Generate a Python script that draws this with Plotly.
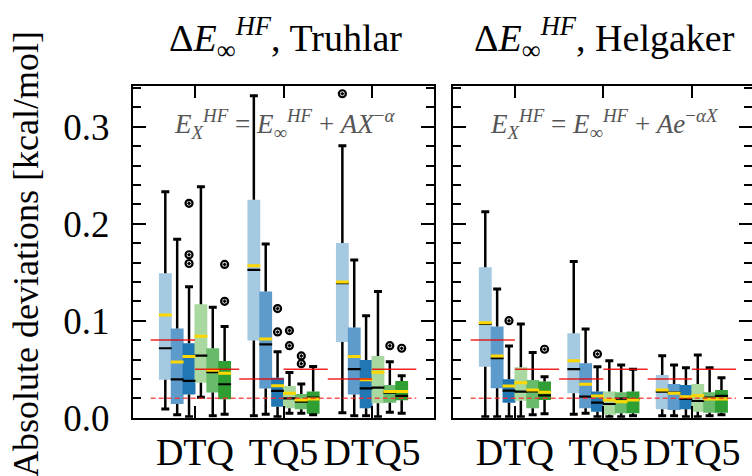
import plotly.graph_objects as go

# ---------------- data ----------------
groups = [1, 2, 3]
group_labels = ["DTQ", "TQ5", "DTQ5"]
box_colors = ["#a6c9e2", "#5d9bcc", "#2077b4", "#a9d9a0", "#67bb6a", "#2f9e33"]

# Truhlar panel: 3 groups x 6 boxes
tru_lo = [0.009, 0.003, 0.001, 0.021, 0.002, 0.0035,
          0.002, 0.0035, 0.001, 0.0045, 0.0045, 0.003,
          0.005, 0.002, 0.002, 0.001, 0.0056, 0.0045]
tru_q1 = [0.039, 0.014, 0.024, 0.036, 0.026, 0.019,
          0.0795, 0.030, 0.0114, 0.0097, 0.0087, 0.004,
          0.078, 0.024, 0.0097, 0.015, 0.0155, 0.018]
tru_med = [0.0716, 0.0396, 0.038, 0.064, 0.047, 0.0345,
           0.1524, 0.0757, 0.0276, 0.020, 0.0165, 0.0206,
           0.1387, 0.050, 0.0303, 0.031, 0.0258, 0.0224]
tru_mean = [0.106, 0.0575, 0.063, 0.084, 0.049, 0.0458,
            0.1566, 0.0812, 0.033, 0.0252, 0.0183, 0.0193,
            0.140, 0.063, 0.039, 0.0468, 0.0269, 0.0269]
tru_q3 = [0.149, 0.092, 0.0768, 0.117, 0.0716, 0.0585,
          0.2247, 0.130, 0.0413, 0.0327, 0.0245, 0.0269,
          0.180, 0.093, 0.0595, 0.0637, 0.0337, 0.0379]
tru_hi = [0.233, 0.184, 0.135, 0.238, 0.114, 0.094,
          0.332, 0.179, 0.068, 0.0465, 0.0348, 0.0527,
          0.2804, 0.1627, 0.105, 0.130, 0.0578, 0.0433]
tru_out_box = [2, 2, 2, 5, 5, 8, 8, 9, 9, 10, 10, 12, 16, 17]
tru_out_val = [0.221, 0.168, 0.159, 0.158, 0.12, 0.1125, 0.0884, 0.0898, 0.0743,
               0.0637, 0.0557, 0.334, 0.0743, 0.0716]

# Helgaker panel
hel_lo = [0.001, 0.001, 0.001, 0.001, 0.003, 0.004,
          0.0035, 0.0045, 0.001, 0.001, 0.001, 0.002,
          0.002, 0.002, 0.001, 0.001, 0.002, 0.003]
hel_q1 = [0.0526, 0.0303, 0.0155, 0.0175, 0.0097, 0.0183,
          0.0252, 0.0097, 0.0062, 0.003, 0.0045, 0.0045,
          0.0087, 0.008, 0.0087, 0.0062, 0.005, 0.005]
hel_med = [0.0967, 0.0613, 0.0279, 0.0269, 0.0272, 0.0231,
           0.050, 0.0217, 0.0155, 0.0141, 0.0196, 0.019,
           0.0269, 0.0258, 0.0193, 0.0172, 0.0206, 0.0224]
hel_mean = [0.098, 0.0637, 0.0327, 0.0361, 0.0286, 0.0262,
            0.0588, 0.0345, 0.0224, 0.0183, 0.0165, 0.0183,
            0.0286, 0.0252, 0.0217, 0.0227, 0.0193, 0.0193]
hel_q3 = [0.155, 0.094, 0.0396, 0.052, 0.0389, 0.0372,
          0.087, 0.0561, 0.0269, 0.0269, 0.0262, 0.0269,
          0.044, 0.0348, 0.0337, 0.0348, 0.0262, 0.0286]
hel_hi = [0.2123, 0.1328, 0.074, 0.0967, 0.0671, 0.0423,
          0.161, 0.0915, 0.0526, 0.0587, 0.0544, 0.050,
          0.064, 0.0544, 0.0516, 0.0647, 0.0516, 0.0413]
hel_out_box = [2, 5, 8]
hel_out_val = [0.100, 0.0706, 0.0657]

# reference lines (same for both panels)
ref_x0 = [0.5, 1.0, 1.5, 2.0, 2.5, 3.0]
ref_x1 = [1.0, 1.5, 2.0, 2.5, 3.0, 3.5]
ref_y = [0.08, 0.05, 0.04, 0.05, 0.04, 0.05]
dash_y = 0.02
dash_x = [0.5, 3.5]

titles = ["Δ<i>E</i><sub>∞</sub><sup><i>HF</i></sup>, Truhlar",
          "Δ<i>E</i><sub>∞</sub><sup><i>HF</i></sup>, Helgaker"]
formulas = ["<i>E</i><sub><i>X</i></sub><sup><i>HF</i></sup> = <i>E</i><sub>∞</sub><sup><i>HF</i></sup> + <i>AX</i><sup>−<i>α</i></sup>",
            "<i>E</i><sub><i>X</i></sub><sup><i>HF</i></sup> = <i>E</i><sub>∞</sub><sup><i>HF</i></sup> + <i>Ae</i><sup>−<i>αX</i></sup>"]
ytitle = "Absolute deviations [kcal/mol]"

# ---------------- figure ----------------
FONT = "Liberation Serif"
SPACING = 0.134
BOXW = 0.145
CAPW = 0.045

fig = go.Figure()


def add_panel(xa, ya, lo, q1, med, mean, q3, hi, ob, ov):
    n = len(q1)
    pos = [groups[i // 6] + ((i % 6) - 2.5) * SPACING for i in range(n)]
    cols = [box_colors[i % 6] for i in range(n)]
    fig.add_trace(go.Bar(x=pos, y=[q3[i] - q1[i] for i in range(n)], base=q1, width=BOXW,
                         marker=dict(color=cols, line=dict(width=0)),
                         xaxis=xa, yaxis=ya, showlegend=False))
    wx, wy, cx, cy, mx, my, ax, ay = [], [], [], [], [], [], [], []
    for i in range(n):
        p = pos[i]
        wx += [p, p, None, p, p, None]
        wy += [q3[i], hi[i], None, lo[i], q1[i], None]
        cx += [p - CAPW, p + CAPW, None, p - CAPW, p + CAPW, None]
        cy += [hi[i], hi[i], None, lo[i], lo[i], None]
        mx += [p - BOXW / 2, p + BOXW / 2, None]
        my += [med[i], med[i], None]
        ax += [p - BOXW / 2, p + BOXW / 2, None]
        ay += [mean[i], mean[i], None]
    fig.add_trace(go.Scatter(x=wx, y=wy, mode="lines", line=dict(color="black", width=2.5),
                             xaxis=xa, yaxis=ya, showlegend=False))
    fig.add_trace(go.Scatter(x=cx, y=cy, mode="lines", line=dict(color="black", width=3),
                             xaxis=xa, yaxis=ya, showlegend=False))
    fig.add_trace(go.Scatter(x=mx, y=my, mode="lines", line=dict(color="black", width=2.2),
                             xaxis=xa, yaxis=ya, showlegend=False))
    fig.add_trace(go.Scatter(x=ax, y=ay, mode="lines", line=dict(color="#ffd700", width=3),
                             xaxis=xa, yaxis=ya, showlegend=False))
    fig.add_trace(go.Scatter(x=[pos[b] for b in ob], y=ov, mode="markers",
                             marker=dict(symbol="circle-open-dot", size=7, color="black",
                                         line=dict(color="black", width=2.2)),
                             xaxis=xa, yaxis=ya, showlegend=False))
    rx, ry = [], []
    for a, b, v in zip(ref_x0, ref_x1, ref_y):
        rx += [a, b, None]
        ry += [v, v, None]
    fig.add_trace(go.Scatter(x=rx, y=ry, mode="lines", line=dict(color="rgba(235,0,0,0.85)", width=1.5),
                             xaxis=xa, yaxis=ya, showlegend=False))
    fig.add_trace(go.Scatter(x=dash_x, y=[dash_y, dash_y], mode="lines",
                             line=dict(color="rgba(255,40,40,0.8)", width=1.5, dash="5px,3px"),
                             xaxis=xa, yaxis=ya, showlegend=False))


add_panel("x", "y", tru_lo, tru_q1, tru_med, tru_mean, tru_q3, tru_hi, tru_out_box, tru_out_val)
add_panel("x2", "y2", hel_lo, hel_q1, hel_med, hel_mean, hel_q3, hel_hi, hel_out_box, hel_out_val)
fig.add_trace(go.Scatter(x=[None], y=[None], xaxis="x2", yaxis="y3", showlegend=False))

W, H = 752, 476
yb, yt = 1 - 417.7 / H, 1 - 86 / H
YR = [0, 0.342]

xcommon = dict(tickvals=groups, ticktext=group_labels, ticks="inside", ticklen=12, tickwidth=2,
               tickcolor="black", showline=True, linecolor="black", linewidth=2, mirror="ticks",
               showgrid=False, zeroline=False, tickfont=dict(family=FONT, size=38, color="black"),
               ticklabelstandoff=0, automargin=False)
ycommon = dict(range=YR, tickvals=[0, 0.1, 0.2, 0.3], ticks="inside", ticklen=13, tickwidth=2,
               tickcolor="black", showline=True, linecolor="black", linewidth=2,
               showgrid=False, zeroline=False, tickfont=dict(family=FONT, size=37, color="black"),
               automargin=False,
               minor=dict(ticks="inside", ticklen=8, tickwidth=1.5, tickcolor="black", dtick=0.02,
                          showgrid=False))

fig.update_layout(
    width=W, height=H, margin=dict(l=0, r=0, t=0, b=0),
    paper_bgcolor="white", plot_bgcolor="white", barmode="overlay",
    xaxis=dict(domain=[133 / W, 434 / W], range=[0.3, 3.7], anchor="y", **xcommon),
    xaxis2=dict(domain=[453 / W, 1.0], range=[0.3, 3.68], anchor="y2", **xcommon),
    yaxis=dict(domain=[yb, yt], anchor="x", mirror="ticks", tickformat=".1f",
               ticklabelstandoff=14, **ycommon),
    yaxis2=dict(domain=[yb, yt], anchor="x2", mirror=False, showticklabels=False, **ycommon),
    yaxis3=dict(overlaying="y2", side="right", anchor="x2", range=YR, tickvals=[0, 0.1, 0.2, 0.3],
                ticks="inside", ticklen=13, tickwidth=2, tickcolor="black", showline=False,
                showgrid=False, zeroline=False, showticklabels=False, automargin=False,
                minor=dict(ticks="inside", ticklen=8, tickwidth=1.5, tickcolor="black", dtick=0.02)),
    font=dict(family=FONT, color="black"),
)

annos = []
for i, (t, f) in enumerate(zip(titles, formulas)):
    cx = (285 if i == 0 else 604) / W
    annos.append(dict(text=t, x=cx, y=1 - 38 / H, xref="paper", yref="paper", showarrow=False,
                      xanchor="center", yanchor="middle", font=dict(family=FONT, size=38, color="black")))
    annos.append(dict(text=f, x=cx, y=1 - 124 / H, xref="paper", yref="paper", showarrow=False,
                      xanchor="center", yanchor="middle", font=dict(family=FONT, size=27, color="#555555")))
annos.append(dict(text=ytitle, x=26 / W, y=1 - 254 / H, xref="paper", yref="paper", showarrow=False,
                  textangle=-90, xanchor="center", yanchor="middle",
                  font=dict(family=FONT, size=36, color="black")))
fig.update_layout(annotations=annos)

fig.write_html("out.html")
